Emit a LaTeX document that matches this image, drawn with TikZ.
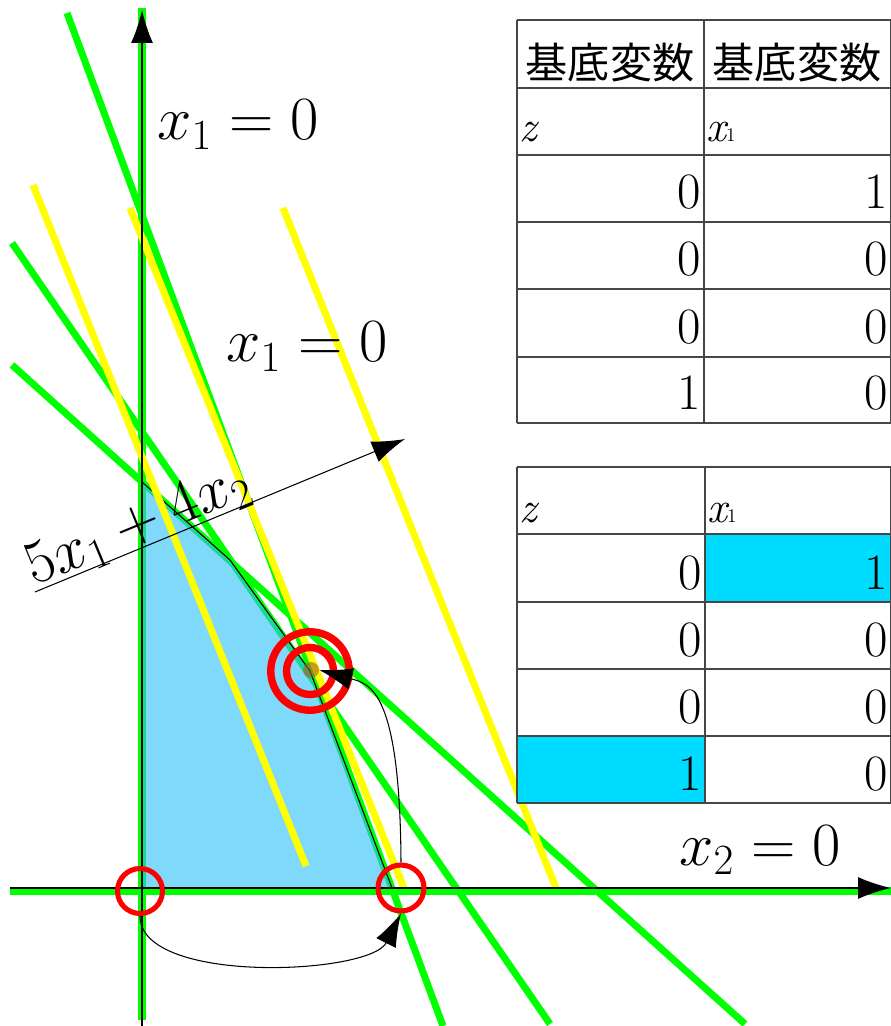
\RequirePackage{fix-cm}
\documentclass[tikz,border=0pt]{standalone}
\usepackage{fontspec}
\usepackage{tikz}
\usetikzlibrary{arrows.meta,positioning,calc}
\newfontfamily\cjkfont{Noto Sans CJK JP}
\definecolor{lpGreen}{RGB}{0,255,0}
\definecolor{lpYellow}{RGB}{255,255,0}
\definecolor{lpRed}{RGB}{255,0,0}
\definecolor{lpRegion}{RGB}{43,193,247}
\definecolor{lpCell}{RGB}{0,220,255}
\definecolor{lpGrid}{RGB}{70,70,70}
\definecolor{lpDot}{RGB}{170,90,40}
\tikzset{
    lpConstraint/.style={draw=lpGreen, line width=4pt},
    lpLevel/.style={draw=lpYellow, line width=4pt},
    lpRing/.style={circle, draw=lpRed, line width=#1, inner sep=0pt},
    lpRing/.default=2.9pt,
    lpArrow/.style={-{Latex[length=0.66cm, width=0.44cm]}, black},
    lpLabel/.style={font=\fontsize{35}{38}\selectfont, inner sep=0pt, anchor=base west},
    % Table cells
    lpGridLine/.style={draw=lpGrid, line width=0.6pt},
    lpNum/.style={font=\rmfamily\fontsize{29}{31}\selectfont, inner sep=0pt, anchor=base east},
    lpVar/.style={font=\rmfamily\fontsize{25}{28}\selectfont, inner sep=0pt, anchor=base west},
    lpHead/.style={font=\cjkfont\fontsize{24}{26}\selectfont, inner sep=0pt}
}

\begin{document}
\begin{tikzpicture}[x=0.02cm, y=-0.02cm]
\useasboundingbox (0,0) rectangle (891,1026);
\fill[white] (0,0) rectangle (891,1026);

% Constraint lines
\coordinate (g1a) at (67,13);   \coordinate (g1b) at (443,1026);
\coordinate (g2a) at (12,243);  \coordinate (g2b) at (550,1024);
\coordinate (g3a) at (12,365);  \coordinate (g3b) at (745,1024);
\coordinate (yAxA) at (142,1020); \coordinate (yAxB) at (142,8);
\coordinate (xAxA) at (10,891);   \coordinate (xAxB) at (891,891);
\draw[lpConstraint] (g1a) -- (g1b);
\draw[lpConstraint] (g2a) -- (g2b);
\draw[lpConstraint] (g3a) -- (g3b);
\draw[lpConstraint] (yAxA) -- (yAxB);
\draw[lpConstraint] (xAxA) -- (xAxB);

% Feasible region
\filldraw[fill=lpRegion, fill opacity=0.6, draw=black, line width=0.6pt]
    (142,482) -- (230,560) -- (310,671) -- (392,888) -- (142,888) -- cycle;

% Objective level lines
\foreach \i/\a/\b in {1/{(33,185)}/{(306,866)}, 2/{(130,208)}/{(404,888)}, 3/{(283,208)}/{(556,888)}} {
    \draw[lpLevel] \a -- \b;
}

% Axes
\coordinate (oA) at (142,1026); \coordinate (oB) at (142,10);
\coordinate (oC) at (10,888);   \coordinate (oD) at (891,888);
\draw[lpArrow, line width=0.8pt] (oA) -- (oB);
\draw[lpArrow, line width=0.8pt] (oC) -- (oD);

% Objective direction
\coordinate (objA) at (35,592); \coordinate (objB) at (405,439);
\draw[lpArrow, line width=0.6pt] (objA) -- (objB);
\node[lpLabel, rotate=22.5, font=\fontsize{35}{38}\selectfont] (lblObj) at (34,586) {$5x_1+4x_2$};

% Labels
\node[lpLabel] (lblA) at (157,140) {$x_1=0$};
\node[lpLabel] (lblB) at (226,362) {$x_1=0$};
\node[lpLabel] (lblC) at (679,865) {$x_2=0$};

% Vertices
\node[lpRing, minimum size=0.9cm] (vO) at (140,891) {};
\node[lpRing, minimum size=0.92cm] (vA) at (401,888) {};
\node[lpRing=4.2pt, minimum size=1.57cm] (vBo) at (310,671) {};
\node[lpRing=4.2pt, minimum size=0.94cm] (vBi) at (310,671) {};
\node[circle, fill=lpDot, fill opacity=0.6, minimum size=0.32cm, inner sep=0pt] (vDot) at (311,670) {};

% Pivot steps
\draw[lpArrow, line width=0.6pt] (vO.south) .. controls (140,985) and (370,975) .. (vA.south);
\draw[lpArrow, line width=0.6pt] (vA.north) .. controls (400,690) and (370,684) .. (vDot.east);

% Table 1
\foreach \y in {20,88,155,222,289,357,423} \draw[lpGridLine] (517,\y) -- (890.5,\y);
\foreach \x in {517,704,890.5} \draw[lpGridLine] (\x,20) -- (\x,423);
\node[lpHead] (tAh1) at (610,63) {基底変数};
\node[lpHead] (tAh2) at (797,63) {基底変数};
\node[lpVar] (tAz) at (519,142) {\itshape z};
\node[lpVar] (tAx) at (706,142) {{\itshape x}{\fontsize{11}{11}\selectfont 1}};
\foreach \i/\b/\l/\r in {1/222/0/1, 2/289/0/0, 3/357/0/0, 4/423/1/0} {
    \node[lpNum] (tAl\i) at (701,\b-13) {\l};
    \node[lpNum] (tAr\i) at (888,\b-13) {\r};
}

% Table 2
\fill[lpCell] (705,534) rectangle (891,602);
\fill[lpCell] (517,736) rectangle (705,803);
\foreach \y in {467,534,602,669,736,803} \draw[lpGridLine] (517,\y) -- (890.5,\y);
\foreach \x in {517,705,890.5} \draw[lpGridLine] (\x,467) -- (\x,803);
\node[lpVar] (tBz) at (519,522) {\itshape z};
\node[lpVar] (tBx) at (707,522) {{\itshape x}{\fontsize{11}{11}\selectfont 1}};
\foreach \i/\b/\l/\r in {1/602/0/1, 2/669/0/0, 3/736/0/0, 4/803/1/0} {
    \node[lpNum] (tBl\i) at (702,\b-13) {\l};
    \node[lpNum] (tBr\i) at (888,\b-13) {\r};
}
\end{tikzpicture}
\end{document}
